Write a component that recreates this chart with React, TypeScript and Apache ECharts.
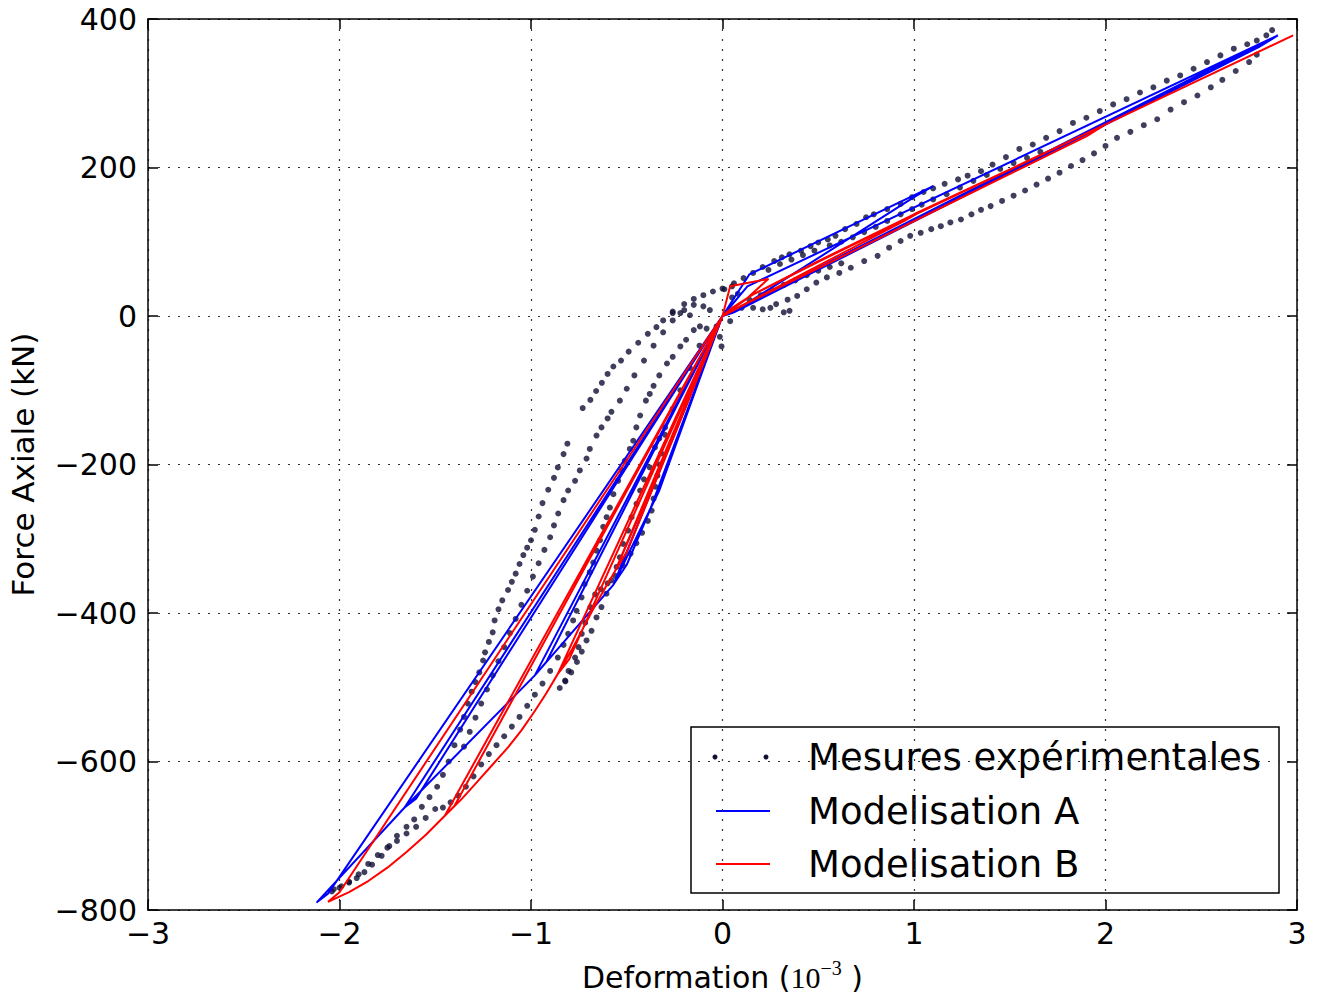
import React, { useEffect, useRef } from "react";
import * as echarts from "echarts";

// ---------- Experimental measurements (deformation 1e-3, force kN) ----------
const expTensionUpper: number[][] = [
  [0.01, 36], [0.06, 44], [0.11, 51], [0.16, 58], [0.21, 66], [0.27, 74], [0.31, 79], [0.35, 83],
  [0.41, 88], [0.46, 94], [0.5, 99], [0.55, 103], [0.59, 108], [0.64, 117], [0.7, 124], [0.75, 133],
  [0.79, 137], [0.86, 144], [0.93, 151], [0.99, 160], [1.05, 167], [1.1, 172], [1.16, 178], [1.23, 184],
  [1.28, 189], [1.35, 195], [1.41, 204], [1.48, 214], [1.55, 225], [1.62, 231], [1.69, 240], [1.76, 249],
  [1.83, 260], [1.9, 267], [1.97, 276], [2.04, 285], [2.11, 292], [2.18, 301], [2.25, 308], [2.32, 317],
  [2.39, 324], [2.46, 333], [2.53, 342], [2.6, 351], [2.67, 360], [2.74, 366], [2.79, 371], [2.84, 378],
  [2.87, 385],
];
const expTensionUpper2: number[][] = [
  [0.24, 62], [0.3, 70], [0.36, 76], [0.42, 82], [0.48, 88], [0.56, 95], [0.62, 100], [0.68, 106],
  [0.74, 113], [0.8, 120], [0.86, 128], [0.93, 137], [0.99, 144], [1.04, 150], [1.1, 157], [1.17, 164],
  [1.24, 173], [1.31, 182], [1.38, 190], [1.45, 198], [1.52, 206], [1.59, 213], [1.66, 221],
];
const expTensionLower1: number[][] = [
  [0.14, 22], [0.2, 28], [0.26, 35], [0.32, 42], [0.38, 48], [0.44, 55], [0.5, 61], [0.56, 66], [0.62, 71],
];
const expTensionLower2: number[][] = [
  [0.28, 16], [0.34, 22], [0.39, 27], [0.44, 36], [0.49, 45], [0.545, 52], [0.61, 58], [0.67, 65],
  [0.74, 74], [0.81, 81], [0.87, 92], [0.93, 101], [0.98, 108], [1.035, 112], [1.09, 117], [1.14, 121],
  [1.19, 126], [1.245, 130], [1.3, 137], [1.35, 143], [1.4, 148], [1.46, 155], [1.52, 162], [1.58, 169],
  [1.64, 177], [1.7, 185], [1.76, 193], [1.82, 202], [1.88, 210], [1.94, 219], [2.0, 229], [2.06, 240],
  [2.13, 248], [2.2, 257], [2.27, 265], [2.34, 278], [2.41, 288], [2.48, 297], [2.55, 308], [2.61, 318],
  [2.68, 330], [2.75, 342], [2.79, 352],
];
const expTail: number[][] = [
  [0.04, -7], [0.1, 11], [0.16, 11], [0.21, 9], [0.25, 11], [0.32, 5], [0.35, 7],
];
const expNearOrigin: number[][] = [
  [-0.26, 6], [-0.22, 4], [-0.17, 1], [-0.15, 15], [-0.1, 13], [-0.066, 8], [-0.118, -14], [-0.083, -17],
  [-0.031, -14], [-0.014, -28], [-0.005, -41], [0.05, 25], [0.08, 30],
];
const expCompEnvelope: number[][] = [
  [0.05, 40], [0.0, 37], [-0.05, 33], [-0.1, 28], [-0.15, 23], [-0.2, 16], [-0.26, 4], [-0.31, -6],
  [-0.345, -15], [-0.39, -24], [-0.44, -36], [-0.49, -48], [-0.53, -60], [-0.57, -68], [-0.6, -78],
  [-0.63, -90], [-0.66, -101], [-0.69, -113], [-0.73, -124],
  [-0.81, -172], [-0.83, -186], [-0.86, -204], [-0.88, -218], [-0.91, -234], [-0.94, -252], [-0.96, -270],
  [-0.98, -288], [-1.0, -302], [-1.02, -312], [-1.04, -322], [-1.06, -334], [-1.08, -347], [-1.1, -358],
  [-1.12, -369], [-1.15, -383], [-1.17, -395], [-1.19, -410], [-1.2, -426], [-1.22, -439], [-1.24, -453],
  [-1.25, -464], [-1.27, -480], [-1.29, -493], [-1.31, -506], [-1.33, -522], [-1.35, -540], [-1.37, -557],
  [-1.4, -578], [-1.43, -600], [-1.46, -618], [-1.49, -634], [-1.53, -648], [-1.57, -661], [-1.61, -678],
  [-1.65, -688], [-1.7, -700], [-1.74, -714], [-1.78, -727], [-1.83, -739], [-1.87, -749], [-1.91, -757],
  [-1.95, -763], [-1.99, -768], [-2.03, -772],
];
const expComp2: number[][] = [
  [-0.2, 8], [-0.26, -6], [-0.31, -22], [-0.36, -40], [-0.41, -60], [-0.46, -80], [-0.5, -98], [-0.536, -114],
  [-0.58, -129], [-0.6, -138], [-0.632, -150], [-0.658, -161], [-0.693, -179], [-0.71, -192], [-0.745, -208],
  [-0.77, -222], [-0.806, -235], [-0.83, -248], [-0.858, -266], [-0.88, -282], [-0.9, -298], [-0.93, -315],
  [-0.96, -333], [-0.99, -351], [-1.02, -370], [-1.05, -389], [-1.08, -408], [-1.11, -427], [-1.14, -446],
  [-1.17, -465], [-1.2, -484], [-1.23, -503], [-1.26, -522], [-1.29, -541], [-1.32, -560], [-1.35, -580],
];
const expComp3: number[][] = [
  [-0.15, -19], [-0.19, -32], [-0.22, -41], [-0.26, -55], [-0.29, -64], [-0.33, -80], [-0.36, -94],
  [-0.38, -105], [-0.4, -114], [-0.43, -134], [-0.45, -150], [-0.466, -168], [-0.484, -179], [-0.51, -195],
  [-0.527, -208], [-0.545, -222], [-0.57, -240], [-0.588, -258], [-0.605, -271], [-0.623, -284], [-0.64, -302],
  [-0.658, -316], [-0.675, -332], [-0.693, -345], [-0.72, -361], [-0.736, -379], [-0.762, -397], [-0.78, -410],
  [-0.806, -428], [-0.83, -443], [-0.86, -460], [-0.9, -478], [-0.94, -495], [-0.98, -510], [-1.02, -525],
  [-1.06, -540], [-1.1, -553], [-1.14, -566], [-1.18, -578], [-1.22, -590], [-1.26, -604], [-1.3, -620],
  [-1.34, -634], [-1.38, -646], [-1.42, -655], [-1.46, -662],
];
const expComp4: number[][] = [
  [-0.12, -40], [-0.17, -70], [-0.22, -100], [-0.26, -125], [-0.3, -150], [-0.33, -165], [-0.353, -177],
  [-0.38, -204], [-0.41, -220], [-0.43, -235], [-0.449, -253], [-0.475, -271], [-0.493, -289], [-0.519, -307],
  [-0.536, -325], [-0.553, -338], [-0.58, -356], [-0.606, -374], [-0.632, -392], [-0.658, -406], [-0.684, -424],
  [-0.71, -437], [-0.735, -452], [-0.76, -466], [-0.79, -480], [-0.82, -492], [-0.85, -501],
];
const expComp5: number[][] = [
  [-0.3, -160], [-0.32, -185], [-0.33, -200], [-0.34, -215], [-0.35, -230], [-0.36, -246], [-0.37, -262],
  [-0.39, -276], [-0.42, -292], [-0.45, -306], [-0.48, -320], [-0.52, -336], [-0.56, -350], [-0.6, -360],
  [-0.635, -368], [-0.665, -375], [-0.69, -392], [-0.717, -413], [-0.735, -428], [-0.752, -446],
  [-0.77, -460], [-0.804, -478], [-0.822, -491],
];
const expComp6: number[][] = [
  [-1.5, -664], [-1.55, -676], [-1.6, -688], [-1.65, -697], [-1.7, -707], [-1.75, -716], [-1.8, -726],
  [-1.85, -738], [-1.9, -752], [-1.95, -762], [-2.0, -770], [-2.04, -775],
];

// ---------- Model A (blue) path ----------
const modelA: number[][] = [
  [0, 0], [0.14, 56], [1.1, 175], [1.0, 160], [0.06, 6], [0, 0],
  [-0.33, -235], [-0.57, -362], [-0.5, -335], [-0.38, -262], [0, 0],
  [-0.57, -362], [-0.98, -484], [-0.92, -466], [0, 0],
  [2.82, 368], [2.74, 355], [0.05, 4], [0, 0],
  [-0.98, -484], [-1.66, -662], [-1.6, -650], [0, 0],
  [0.13, 40], [2.9, 378], [2.8, 362], [0.06, 5], [0, 0],
  [-1.66, -662], [-2.12, -790], [-2.06, -778], [0, 0],
];

// ---------- Model B (red) path ----------
const modelB: number[][] = [
  [0, 0], [0.04, 40], [0.24, 50], [0.12, 22], [0, 0],
  [-0.3, -190], [-0.56, -343], [-0.5, -318], [-0.25, -160], [0, 0],
  [0.05, 11], [0.16, 29], [0.5, 74], [1.05, 143], [0.95, 128], [0.1, 14], [0, 0],
  [-0.56, -343], [-0.61, -365], [-0.68, -397], [-0.79, -451], [-0.86, -482], [-0.8, -462], [0, 0],
  [0.05, 11], [0.16, 29], [0.5, 73], [1.0, 136], [2.0, 258], [1.9, 242], [0.12, 16], [0, 0],
  [-0.86, -482], [-0.92, -508], [-0.98, -532], [-1.05, -558], [-1.12, -581], [-1.2, -604], [-1.28, -627],
  [-1.36, -650], [-1.45, -673], [-1.4, -660], [0, 0],
  [-1.45, -673], [-1.55, -699], [-1.65, -722], [-1.75, -743], [-1.85, -761], [-1.95, -776], [-2.06, -789],
  [-2.0, -776], [0, 0],
  [0.05, 11], [0.16, 29], [0.5, 74], [1.0, 137], [2.0, 258], [2.98, 378],
];

const xTicks = { min: -3, max: 3, interval: 1 };
const yTicks = { min: -800, max: 400, interval: 200 };

const legendLabels = ["Mesures expérimentales", "Modelisation A", "Modelisation B"];

const minusFmt = (v: number) => (v < 0 ? "\u2212" + Math.abs(v) : String(v));

export default function App() {
  const ref = useRef<HTMLDivElement>(null);

  useEffect(() => {
    if (!ref.current) return;
    const chart = echarts.init(ref.current, undefined, { renderer: "svg" });
    const font = "DejaVu Sans";
    const dotColor = "#0f0f35";
    const axisLine = { show: true, onZero: false, lineStyle: { color: "#000", width: 1.5 } };
    const axisTick = { show: true, inside: true, length: 10, lineStyle: { color: "#000", width: 1.5 } };
    const splitLine = { show: true, lineStyle: { color: "#333", type: [2, 8], width: 1.2 } };

    const exp = [
      ...expTensionUpper, ...expTensionUpper2, ...expTensionLower1, ...expTensionLower2, ...expTail,
      ...expNearOrigin, ...expCompEnvelope, ...expComp2, ...expComp3, ...expComp4, ...expComp5, ...expComp6,
    ];

    chart.setOption({
      animation: false,
      backgroundColor: "#fff",
      grid: { left: 148, right: 22, top: 19, bottom: 84, containLabel: false, outerBoundsMode: "none" },
      xAxis: [
        {
          type: "value", ...xTicks, position: "bottom",
          axisLine, axisTick, splitLine,
          axisLabel: { fontSize: 30, fontFamily: font, color: "#000", margin: 8, formatter: minusFmt },
          name: "{a|Deformation (}{b|10}{c|\u22123}{a| )}",
          nameLocation: "middle", nameGap: 48,
          nameTextStyle: {
            color: "#000",
            rich: {
              a: { fontSize: 30, fontFamily: font, color: "#000", lineHeight: 38 },
              b: { fontSize: 30, fontFamily: "Liberation Serif", color: "#000", lineHeight: 38 },
              c: { fontSize: 20, fontFamily: "Liberation Serif", color: "#000", lineHeight: 38, verticalAlign: "top" },
            },
          },
        },
        {
          type: "value", ...xTicks, position: "top",
          axisLine, axisTick, splitLine: { show: false }, axisLabel: { show: false },
        },
      ],
      yAxis: [
        {
          type: "value", ...yTicks, position: "left",
          axisLine, axisTick, splitLine,
          axisLabel: { fontSize: 30, fontFamily: font, color: "#000", margin: 11, formatter: minusFmt },
          name: "Force Axiale (kN)", nameLocation: "middle", nameRotate: 90, nameGap: 110,
          nameTextStyle: { fontSize: 31, fontFamily: font, color: "#000" },
        },
        {
          type: "value", ...yTicks, position: "right",
          axisLine, axisTick, splitLine: { show: false }, axisLabel: { show: false },
        },
      ],
      series: [
        {
          name: legendLabels[0], type: "scatter", data: exp, symbol: "circle", symbolSize: 6,
          itemStyle: { color: dotColor }, z: 2,
        },
        {
          name: legendLabels[1], type: "line", data: modelA, symbol: "none",
          lineStyle: { color: "#0000ff", width: 2 }, z: 3,
        },
        {
          name: legendLabels[2], type: "line", data: modelB, symbol: "none",
          lineStyle: { color: "#ff0000", width: 2 }, z: 4,
        },
      ],
      graphic: [
        {
          type: "group", z: 100,
          children: [
            { type: "rect", shape: { x: 691, y: 727, width: 588, height: 166 }, style: { fill: "#fff", stroke: "#000", lineWidth: 1.5 } },
            { type: "circle", shape: { cx: 715, cy: 757, r: 2.5 }, style: { fill: dotColor } },
            { type: "circle", shape: { cx: 766, cy: 757, r: 2.5 }, style: { fill: dotColor } },
            { type: "line", shape: { x1: 716, y1: 811, x2: 770, y2: 811 }, style: { stroke: "#0000ff", lineWidth: 2 } },
            { type: "line", shape: { x1: 716, y1: 864, x2: 770, y2: 864 }, style: { stroke: "#ff0000", lineWidth: 2 } },
            { type: "text", x: 808, y: 757, style: { text: legendLabels[0], font: `37px ${font}`, fill: "#000", verticalAlign: "middle" } },
            { type: "text", x: 808, y: 811, style: { text: legendLabels[1], font: `37px ${font}`, fill: "#000", verticalAlign: "middle" } },
            { type: "text", x: 808, y: 864, style: { text: legendLabels[2], font: `37px ${font}`, fill: "#000", verticalAlign: "middle" } },
          ],
        },
      ],
    });
    return () => chart.dispose();
  }, []);

  return (
    <div
      ref={ref}
      style={{ position: "absolute", left: 0, top: 0, width: 1319, height: 994, background: "#fff" }}
    />
  );
}
